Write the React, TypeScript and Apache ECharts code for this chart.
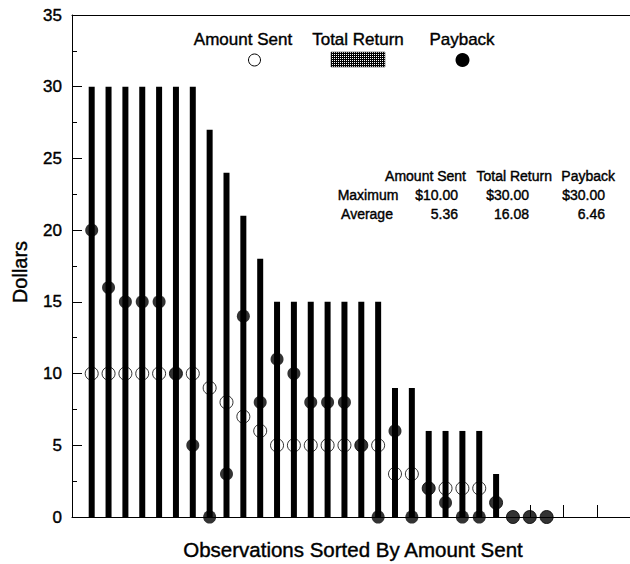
import React, { useEffect, useRef } from "react";
import * as echarts from "echarts";

// ---- data ----
const observations = Array.from({ length: 28 }, (_, i) => i); // 28 observations, sorted by amount sent
const amountSent = [10, 10, 10, 10, 10, 10, 10, 9, 8, 7, 6, 5, 5, 5, 5, 5, 5, 5, 3, 3, 2, 2, 2, 2, 1, 0, 0, 0];
const totalReturn = [30, 30, 30, 30, 30, 30, 30, 27, 24, 21, 18, 15, 15, 15, 15, 15, 15, 15, 9, 9, 6, 6, 6, 6, 3, 0, 0, 0];
const payback = [20, 16, 15, 15, 15, 10, 5, 0, 3, 14, 8, 11, 10, 8, 8, 8, 5, 0, 6, 0, 2, 1, 0, 0, 1, 0, 0, 0];

const legendNames = ["Amount Sent", "Total Return", "Payback"];
const statHeaders = ["Amount Sent", "Total Return", "Payback"];
const statRowLabels = ["Maximum", "Average"];
const statMaximum = ["$10.00", "$30.00", "$30.00"];
const statAverage = ["5.36", "16.08", "6.46"];

const yTickMin = 0;
const yTickMax = 35;
const yTickStep = 5;

const FONT = "'Liberation Sans', Arial, Helvetica, sans-serif";

export default function App() {
  const ref = useRef<HTMLDivElement>(null);

  useEffect(() => {
    if (!ref.current) return;
    const chart = echarts.init(ref.current, null, { renderer: "svg" });

    // hatched pattern for Total Return legend swatch
    let patternFill: any = "#333";
    try {
      const c = document.createElement("canvas");
      c.width = 4;
      c.height = 4;
      const ctx = c.getContext("2d");
      if (ctx) {
        ctx.fillStyle = "#000";
        ctx.fillRect(0, 0, 4, 4);
        ctx.fillStyle = "#fff";
        ctx.fillRect(0, 0, 1, 1);
        ctx.fillRect(2, 2, 1, 1);
        ctx.fillRect(2, 0, 1, 1);
        ctx.fillRect(0, 2, 1, 1);
        patternFill = { image: c.toDataURL(), repeat: "repeat" };
      }
    } catch (e) {
      patternFill = "#333";
    }

    const xMin = -1.169;
    const xMax = 31.947;
    const evenTicks = Array.from({ length: 16 }, (_, k) => 2 * k);

    const txt = (text: string, x: number, y: number, size: number, align = "center", extra: any = {}) => ({
      type: "text",
      x,
      y,
      silent: true,
      style: {
        text,
        fontSize: size,
        fontFamily: FONT,
        fill: "#000",
        stroke: "#000",
        lineWidth: 0.4,
        align,
        verticalAlign: "middle",
      },
      ...extra,
    });

    const statColRightHeader = [466, 552, 615];
    const statColRightValue = [458, 529, 605];

    const graphics: any[] = [
      // axis names
      txt("Dollars", 20, 272, 20, "center", { rotation: Math.PI / 2 }),
      txt("Observations Sorted By Amount Sent", 353, 549, 20.5),
      // legend
      txt(legendNames[0], 243, 39, 17),
      txt(legendNames[1], 358, 39, 17),
      txt(legendNames[2], 462, 39, 17),
      {
        type: "circle",
        shape: { cx: 254.5, cy: 60, r: 6 },
        style: { fill: "#fff", stroke: "#000", lineWidth: 1 },
      },
      {
        type: "rect",
        shape: { x: 331, y: 52, width: 54, height: 15 },
        style: { fill: patternFill, stroke: "#222", lineWidth: 0.5 },
      },
      {
        type: "circle",
        shape: { cx: 462.5, cy: 60, r: 7 },
        style: { fill: "#000" },
      },
      // stats table
      ...statHeaders.map((h, i) => txt(h, statColRightHeader[i], 176, 14, "right")),
      txt(statRowLabels[0], 368, 195, 14),
      txt(statRowLabels[1], 367, 213.5, 14),
      ...statMaximum.map((v, i) => txt(v, statColRightValue[i], 195, 14, "right")),
      ...statAverage.map((v, i) => txt(v, statColRightValue[i], 213.5, 14, "right")),
    ];

    chart.setOption({
      animation: false,
      backgroundColor: "#fff",
      grid: { left: 72, right: 0, top: 15, bottom: 47, containLabel: false },
      xAxis: [
        {
          type: "value",
          min: xMin,
          max: xMax,
          position: "bottom",
          axisLine: { show: true, onZero: false, lineStyle: { color: "#000", width: 1 } },
          axisTick: {
            show: true,
            inside: true,
            length: 12,
            customValues: evenTicks,
            lineStyle: { color: "#000", width: 1 },
          },
          axisLabel: { show: false },
          splitLine: { show: false },
        },
        {
          type: "value",
          min: xMin,
          max: xMax,
          position: "top",
          axisLine: { show: true, onZero: false, lineStyle: { color: "#000", width: 1 } },
          axisTick: { show: false },
          axisLabel: { show: false },
          splitLine: { show: false },
        },
      ],
      yAxis: {
        type: "value",
        min: yTickMin,
        max: yTickMax,
        interval: yTickStep,
        position: "left",
        axisLine: { show: true, onZero: false, lineStyle: { color: "#000", width: 1 } },
        axisTick: { show: true, inside: true, length: 10, lineStyle: { color: "#000", width: 1 } },
        minorTick: { show: true, splitNumber: 2, length: 5, lineStyle: { color: "#000", width: 1 } },
        axisLabel: {
          color: "#000",
          fontSize: 17,
          fontFamily: FONT,
          margin: 10,
          textBorderColor: "#000",
          textBorderWidth: 0.4,
        },
        splitLine: { show: false },
      },
      series: [
        {
          name: "Total Return",
          type: "bar",
          xAxisIndex: 0,
          barWidth: 6,
          data: observations.map((i) => [i, totalReturn[i]]),
          itemStyle: { color: "#000" },
          z: 2,
        },
        {
          name: "Amount Sent",
          type: "scatter",
          xAxisIndex: 0,
          symbol: "circle",
          symbolSize: 13,
          data: observations.map((i) => [i, amountSent[i]]),
          itemStyle: { color: "rgba(255,255,255,0)", borderColor: "#000", borderWidth: 1 },
          z: 3,
        },
        {
          name: "Payback",
          type: "scatter",
          xAxisIndex: 0,
          symbol: "circle",
          symbolSize: 13,
          data: observations.map((i) => [i, payback[i]]),
          itemStyle: { color: "#000" },
          z: 4,
        },
      ],
      graphic: graphics,
    });

    return () => chart.dispose();
  }, []);

  return (
    <div
      ref={ref}
      style={{ position: "fixed", left: 0, top: 0, width: 630, height: 564, background: "#fff" }}
    />
  );
}
